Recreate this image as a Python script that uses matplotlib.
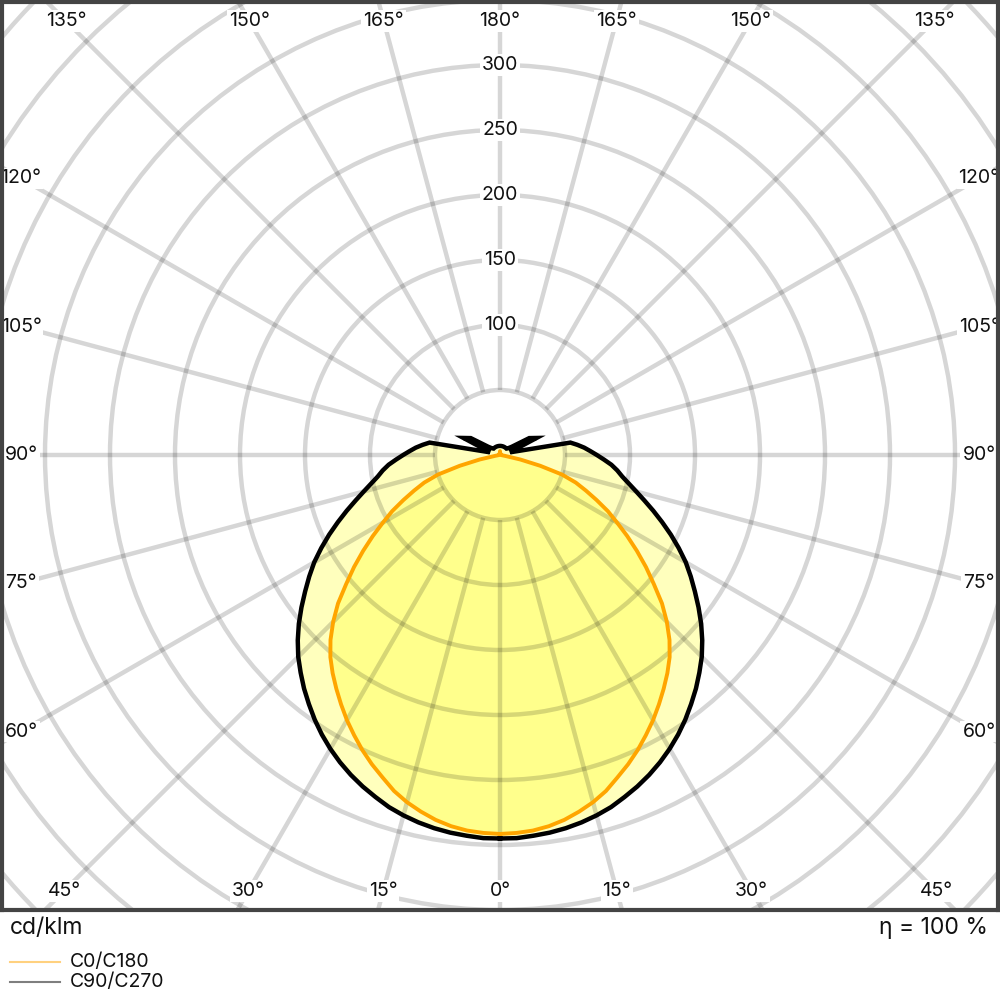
import numpy as np
import matplotlib
matplotlib.use("Agg")
import matplotlib.pyplot as plt
from matplotlib.patches import Circle
from matplotlib.lines import Line2D

plt.rcParams['font.family'] = ['Inter', 'DejaVu Sans']

# ---- data (cd/klm) ----
angles = [0, 2.5, 5, 7.5, 10, 12.5, 15, 17.5, 20, 22.5, 25, 27.5, 30, 32.5, 35, 37.5,
          40, 42.5, 45, 47.5, 50, 52.5, 55, 57.5, 60, 62.5, 65, 67.5, 70, 72.5, 75, 77.5,
          80, 82.5, 85, 87.5, 90, 92.5, 95, 97.5, 100,
          105, 110, 115, 120, 125, 130, 135, 140, 145, 150, 155, 160, 165, 170, 175, 180]
c0_c180 = [291.5, 291, 290, 288, 285, 281, 276.5, 271, 264, 257.5, 250.5, 243, 235.5, 227.5, 219.5, 211.5,
           203, 193, 181.5, 169, 154.5, 141.5, 128.5, 116, 104, 93.5, 82, 71.5, 62, 50, 32, 16,
           4, 1.5, 1, 1, 1, 1, 1, 1, 1,
           1, 1, 1, 1, 1, 1, 1, 1, 1, 1, 1, 1, 1, 1, 1, 3]
c90_c270 = [295, 295, 294, 293, 291.5, 289.5, 287, 284, 280, 276, 271.5, 266.5, 261, 255, 248.5, 241.5,
            234.5, 227, 219.5, 211, 202, 192.5, 183, 174, 165, 155, 145, 135, 125.5, 116.5, 108.5, 101.5,
            95.5, 91, 86, 80, 74.5, 69.5, 65, 60, 55,
            8, 12, 31, 26, 11, 8, 7, 7, 7, 7, 7, 7, 7, 7, 7, 7]
ring_values = [50, 100, 150, 200, 250, 300, 350, 400, 450, 500, 550]
ring_labels = [100, 150, 200, 250, 300]
angle_ticks = np.arange(0, 181, 15)
series_names = ["C0/C180", "C90/C270"]
unit_label = "cd/klm"
eta_label = "η = 100 %"

# ---- figure ----
W, H = 1000, 1000
fig = plt.figure(figsize=(10, 10), dpi=100)
px = 1.3  # pixels per cd/klm
cx, cy = 500, 455
left, right, top, bottom = 2, 998, 2, 910
ax = fig.add_axes([left / W, 1 - bottom / H, (right - left) / W, (bottom - top) / H])
ax.set_xlim(-(cx - left) / px, (right - cx) / px)
ax.set_ylim(-(bottom - cy) / px, (cy - top) / px)
ax.set_xticks([]); ax.set_yticks([])
for s in ax.spines.values():
    s.set_color('#444444')
    s.set_linewidth(3.0)
    s.set_zorder(10)

def closed_curve(vals):
    a = np.deg2rad(np.asarray(angles, float))
    v = np.asarray(vals, float)
    xl, yl = -v * np.sin(a), -v * np.cos(a)
    xr, yr = (v * np.sin(a))[::-1], (-v * np.cos(a))[::-1]
    return np.concatenate([xl, xr]), np.concatenate([yl, yr])

x0, y0 = closed_curve(c0_c180)
x1, y1 = closed_curve(c90_c270)
ax.fill(x1, y1, color='#FFFF00', alpha=0.26, lw=0, zorder=1)
ax.fill(x0, y0, color='#FFFF00', alpha=0.26, lw=0, zorder=1)

grid_col = (0, 0, 0, 0.16)
for r in ring_values:
    ax.add_patch(Circle((0, 0), r, fill=False, edgecolor=grid_col, lw=3.2, zorder=2))
for ang in np.arange(0, 360, 15):
    a = np.deg2rad(ang)
    ax.plot([50 * np.sin(a), 700 * np.sin(a)], [-50 * np.cos(a), -700 * np.cos(a)],
            color=grid_col, lw=3.2, zorder=2, solid_capstyle='butt')

ax.plot(x1, y1, color='black', lw=3.2, zorder=3, solid_joinstyle='miter')
ax.plot(x0, y0, color='#FFA500', lw=2.8, zorder=3)

# radial value labels
for r in ring_labels:
    ax.text(0, r, str(r), ha='center', va='center', fontsize=14, color='#111111', zorder=5,
            bbox=dict(boxstyle='square,pad=0.1', fc='white', ec='none'))

# angle labels on an inset rectangle
inset = 19 / px
X = (cx - left) / px - inset
Yt = (cy - top) / px - inset
Yb = (bottom - cy) / px - inset
for ang in angle_ticks:
    a = np.deg2rad(ang)
    for side in ([-1, 1] if 0 < ang < 180 else [1]):
        dx, dy = side * np.sin(a), -np.cos(a)
        ts = []
        if abs(dx) > 1e-9:
            ts.append(X / abs(dx))
        if dy > 1e-9:
            ts.append(Yt / dy)
        elif dy < -1e-9:
            ts.append(Yb / -dy)
        t = min(ts)
        ax.text(t * dx, t * dy, f"{ang}°", ha='center', va='center', fontsize=14,
                color='#111111', zorder=5,
                bbox=dict(boxstyle='square,pad=0.1', fc='white', ec='none'))

# bottom texts
fig.text(10 / W, 1 - 928 / H, unit_label, ha='left', va='center', fontsize=16.5, color='#111111')
fig.text(988 / W, 1 - 928 / H, eta_label, ha='right', va='center', fontsize=16.5, color='#111111')

# legend
leg_cols = [(1.0, 0.647, 0.0, 0.5), (0, 0, 0, 0.5)]
for i, (name, col) in enumerate(zip(series_names, leg_cols)):
    yy = 1 - (962 + 20 * i) / H
    fig.add_artist(Line2D([10 / W, 60 / W], [yy, yy], color=col, lw=1.5))
    fig.text(70 / W, yy, name, ha='left', va='center', fontsize=14, color='#111111')

fig.savefig('out.png', dpi=100)
